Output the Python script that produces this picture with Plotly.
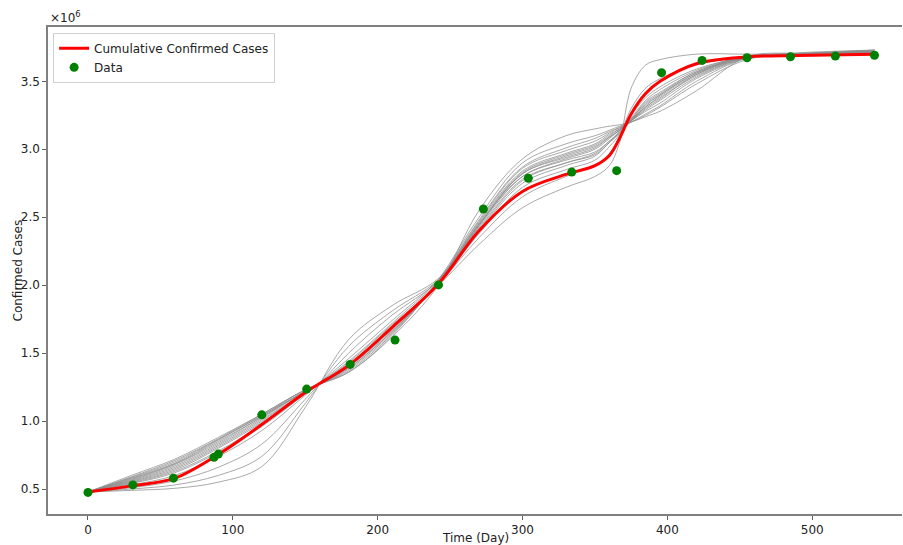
import plotly.graph_objects as go

# Observed data (day, confirmed cases in millions)
data_days = [0, 31, 59, 87, 90, 120, 151, 181, 212, 242, 273, 304, 334, 365, 396, 424, 455, 485, 516, 543]
data_cases = [0.475, 0.530, 0.580, 0.733, 0.757, 1.046, 1.235, 1.417, 1.596, 2.002, 2.561, 2.787,
              2.832, 2.843, 3.564, 3.654, 3.674, 3.681, 3.686, 3.692]

knot_days = [0, 30, 60, 90, 120, 150, 180, 210, 242, 270, 300, 330, 350, 360, 367, 375, 385, 395, 420, 455, 490, 543]

# Main fitted curve (millions)
fit_cases = [0.478, 0.523, 0.58, 0.755, 0.975, 1.21, 1.41, 1.69, 2.01, 2.40, 2.69, 2.815, 2.88, 2.955,
             3.08, 3.26, 3.41, 3.50, 3.63, 3.68, 3.69, 3.70]

# Ensemble curves (millions)
ens_1 = [0.478, 0.49, 0.505, 0.55, 0.665, 1.10, 1.60, 1.85, 2.05, 2.45, 2.80, 2.92, 2.98, 3.06, 3.12, 3.21, 3.33, 3.40, 3.56, 3.68, 3.70, 3.71]
ens_2 = [0.478, 0.53, 0.60, 0.74, 0.93, 1.19, 1.46, 1.74, 2.04, 2.42, 2.78, 2.90, 2.97, 3.06, 3.13, 3.22, 3.35, 3.42, 3.57, 3.68, 3.705, 3.715]
ens_3 = [0.478, 0.54, 0.62, 0.77, 0.96, 1.20, 1.44, 1.72, 2.03, 2.40, 2.75, 2.88, 2.95, 3.05, 3.12, 3.23, 3.36, 3.44, 3.58, 3.685, 3.70, 3.71]
ens_4 = [0.478, 0.555, 0.65, 0.81, 1.00, 1.21, 1.41, 1.69, 2.02, 2.44, 2.82, 2.95, 3.02, 3.09, 3.14, 3.21, 3.31, 3.38, 3.54, 3.675, 3.70, 3.72]
ens_5 = [0.478, 0.56, 0.66, 0.82, 1.01, 1.21, 1.40, 1.68, 2.02, 2.43, 2.80, 2.93, 3.00, 3.08, 3.14, 3.21, 3.32, 3.40, 3.56, 3.68, 3.70, 3.72]
ens_6 = [0.478, 0.565, 0.67, 0.83, 1.02, 1.22, 1.40, 1.67, 2.02, 2.46, 2.84, 2.97, 3.04, 3.11, 3.15, 3.21, 3.29, 3.36, 3.53, 3.675, 3.70, 3.72]
ens_7 = [0.478, 0.57, 0.68, 0.84, 1.03, 1.22, 1.39, 1.66, 2.02, 2.45, 2.83, 2.96, 3.03, 3.10, 3.15, 3.21, 3.30, 3.37, 3.55, 3.68, 3.705, 3.72]
ens_8 = [0.478, 0.58, 0.69, 0.86, 1.04, 1.22, 1.38, 1.65, 2.03, 2.47, 2.86, 2.99, 3.06, 3.12, 3.16, 3.21, 3.28, 3.34, 3.52, 3.67, 3.70, 3.725]
ens_9 = [0.478, 0.59, 0.71, 0.87, 1.05, 1.23, 1.37, 1.64, 2.03, 2.48, 2.87, 3.01, 3.08, 3.13, 3.16, 3.20, 3.26, 3.32, 3.50, 3.67, 3.70, 3.73]
ens_10 = [0.478, 0.60, 0.72, 0.88, 1.05, 1.23, 1.36, 1.63, 2.04, 2.50, 2.90, 3.04, 3.10, 3.14, 3.17, 3.20, 3.25, 3.31, 3.48, 3.66, 3.70, 3.73]
ens_11 = [0.478, 0.585, 0.70, 0.865, 1.04, 1.23, 1.36, 1.62, 2.00, 2.55, 2.93, 3.10, 3.15, 3.17, 3.18, 3.20, 3.24, 3.28, 3.43, 3.68, 3.71, 3.73]
ens_12 = [0.478, 0.545, 0.63, 0.78, 0.97, 1.20, 1.43, 1.71, 2.00, 2.30, 2.57, 2.72, 2.80, 2.88, 3.05, 3.45, 3.62, 3.66, 3.70, 3.70, 3.70, 3.70]
ens_13 = [0.478, 0.55, 0.64, 0.80, 0.99, 1.21, 1.42, 1.70, 2.01, 2.35, 2.65, 2.80, 2.88, 2.97, 3.10, 3.30, 3.45, 3.52, 3.62, 3.685, 3.70, 3.71]
ens_14 = [0.478, 0.51, 0.56, 0.66, 0.83, 1.16, 1.50, 1.78, 2.03, 2.38, 2.72, 2.85, 2.92, 3.02, 3.11, 3.25, 3.38, 3.46, 3.59, 3.68, 3.70, 3.71]
ens_15 = [0.478, 0.50, 0.53, 0.60, 0.74, 1.13, 1.55, 1.81, 2.04, 2.41, 2.77, 2.90, 2.96, 3.05, 3.12, 3.22, 3.34, 3.41, 3.57, 3.68, 3.70, 3.71]
ens_16 = [0.478, 0.575, 0.685, 0.85, 1.03, 1.22, 1.39, 1.66, 2.02, 2.44, 2.82, 2.94, 3.01, 3.09, 3.14, 3.22, 3.31, 3.39, 3.55, 3.675, 3.70, 3.72]

ensemble = [ens_1, ens_2, ens_3, ens_4, ens_5, ens_6, ens_7, ens_8,
            ens_9, ens_10, ens_11, ens_12, ens_13, ens_14, ens_15, ens_16]

y_ticks = [0.5, 1.0, 1.5, 2.0, 2.5, 3.0, 3.5]
y_tick_labels = ["0.5", "1.0", "1.5", "2.0", "2.5", "3.0", "3.5"]
x_ticks = [0, 100, 200, 300, 400, 500]
x_tick_labels = ["0", "100", "200", "300", "400", "500"]

FONT = "DejaVu Sans, Arial, sans-serif"
FS = 12

fig = go.Figure()
for ens in ensemble:
    fig.add_trace(go.Scatter(x=knot_days, y=ens, mode="lines", line_shape="spline",
                             line=dict(color="rgba(140,140,140,0.75)", width=1),
                             showlegend=False, hoverinfo="skip"))

fig.add_trace(go.Scatter(x=knot_days, y=fit_cases, mode="lines", line_shape="spline",
                         line=dict(color="#ff0000", width=3),
                         name="Cumulative Confirmed Cases"))
fig.add_trace(go.Scatter(x=data_days, y=data_cases, mode="markers",
                         marker=dict(color="#008000", size=9),
                         name="Data"))

axis_common = dict(showgrid=False, zeroline=False, showline=True, linecolor="#808080",
                   linewidth=1.5, ticks="outside", ticklen=4, tickwidth=1,
                   tickcolor="#606060", tickfont=dict(family=FONT, size=FS, color="#222"))

fig.update_layout(
    width=903, height=545,
    margin=dict(l=48, r=1, t=27, b=31),
    paper_bgcolor="white", plot_bgcolor="white",
    font=dict(family=FONT, size=FS, color="#222"),
    xaxis=dict(range=[-27.6, 562.0], tickvals=x_ticks, ticktext=x_tick_labels,
               mirror=True, **axis_common),
    yaxis=dict(range=[0.316, 3.90], tickvals=y_ticks, ticktext=y_tick_labels,
               mirror=False, **axis_common),
    legend=dict(x=0.006, y=0.988, xanchor="left", yanchor="top",
                bgcolor="rgba(255,255,255,0.85)", bordercolor="#d0d0d0", borderwidth=1,
                font=dict(family=FONT, size=FS, color="#222"), tracegroupgap=0),
    annotations=[
        dict(text="×10<sup>6</sup>", xref="paper", yref="paper", x=0, y=1,
             xanchor="left", yanchor="bottom", xshift=0, yshift=0, showarrow=False,
             font=dict(family=FONT, size=FS, color="#222")),
        dict(text="Time (Day)", xref="paper", yref="paper", x=0.5, y=0,
             xanchor="center", yanchor="middle", yshift=-24, showarrow=False,
             font=dict(family=FONT, size=FS, color="#222")),
        dict(text="Confirmed Cases", xref="paper", yref="paper", x=0, y=0.5,
             xanchor="center", yanchor="middle", xshift=-31, textangle=-90, showarrow=False,
             font=dict(family=FONT, size=FS, color="#222")),
    ],
)

fig.write_html("out.html", config={"displayModeBar": False},
               post_script="document.body.style.margin='0';document.body.style.overflow='hidden';")
